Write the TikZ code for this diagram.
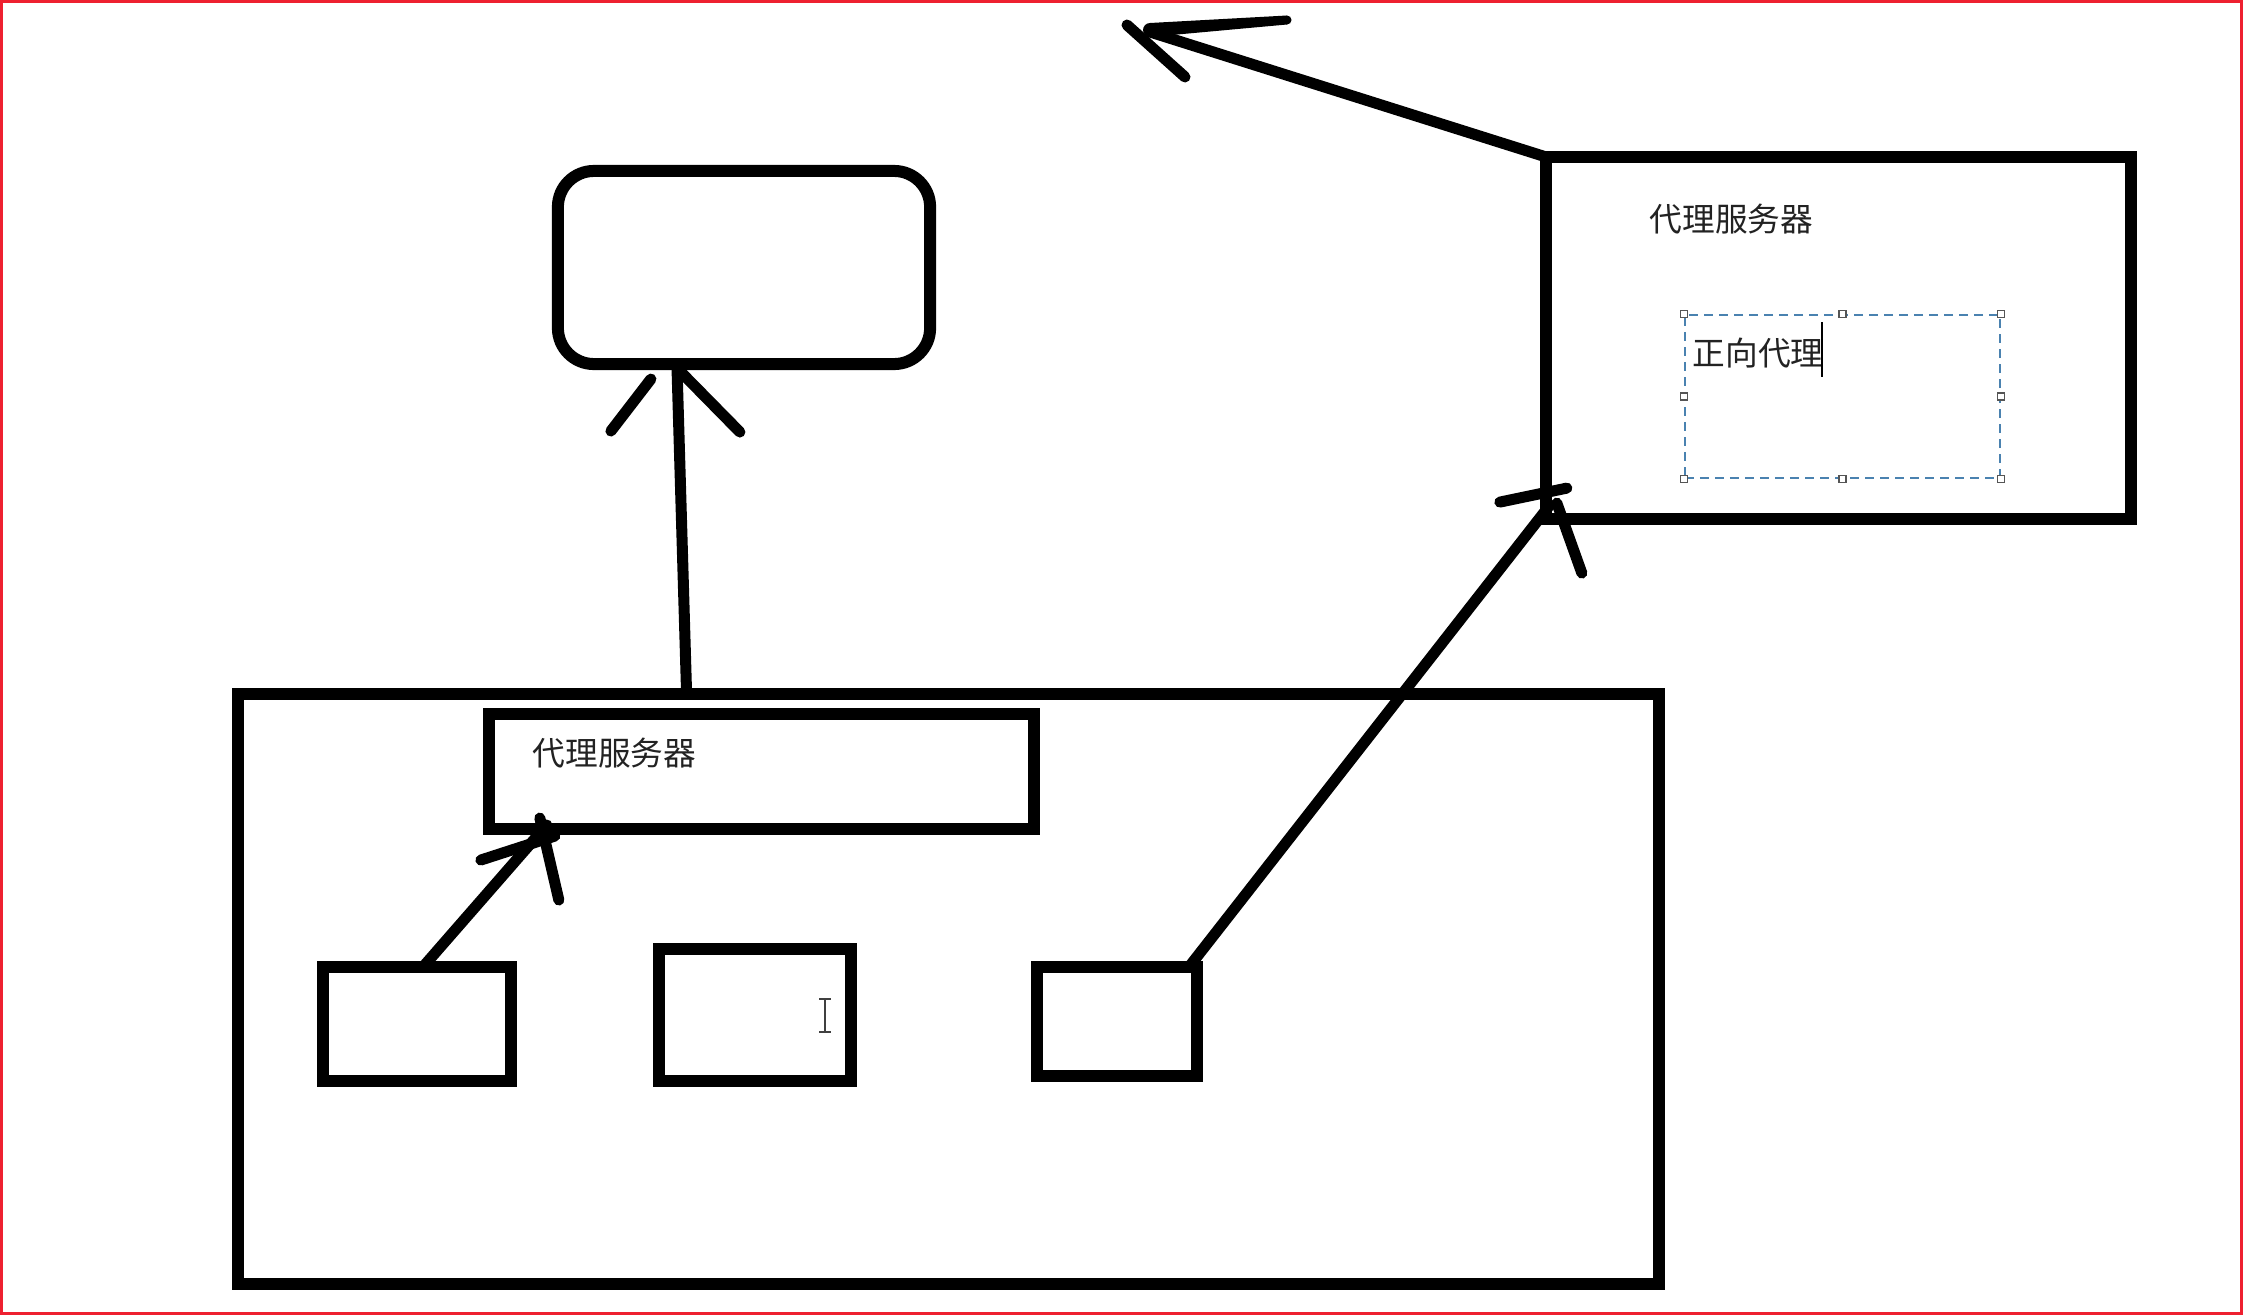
\documentclass[tikz,border=0pt]{standalone}
\usepackage{fontspec}
\newfontfamily\cjk{Noto Sans CJK SC}
\usetikzlibrary{calc}
\definecolor{redb}{HTML}{EE2030}
\definecolor{dashblue}{HTML}{4A82B0}
\definecolor{txt}{HTML}{222222}
\definecolor{handlec}{HTML}{555555}
\begin{document}
\begin{tikzpicture}[x=0.01cm,y=-0.01cm,
  box/.style={rectangle,draw=black,line width=0.12cm,inner sep=0pt,outer sep=0pt},
  hand/.style={draw=black,line width=0.11cm,line cap=round,line join=round},
  lbl/.style={font=\cjk\fontsize{9.3pt}{11pt}\selectfont,text=txt,inner sep=0pt,anchor=base west},
  handle/.style={rectangle,draw=handlec,fill=white,line width=0.012cm,minimum size=0.07cm,inner sep=0pt}]
\useasboundingbox (0,0) rectangle (2243,1315);
\draw[redb,line width=0.03cm] (1.5,1.5) rectangle (2241.5,1313.5);

% boxes
\node[box,rounded corners=0.36cm,minimum width=3.72cm,minimum height=1.93cm] (target) at (744,267.5) {};
\node[box,minimum width=14.21cm,minimum height=5.90cm] (lan) at (948.5,989) {};
\node[box,minimum width=5.45cm,minimum height=1.15cm] (proxyA) at (761.5,771.5) {};
\node[lbl] (proxyAl) at (532,765) {代理服务器};
\node[box,minimum width=1.88cm,minimum height=1.14cm] (ca) at (417,1024) {};
\node[box,minimum width=1.92cm,minimum height=1.32cm] (cb) at (755,1015) {};
\node[box,minimum width=1.60cm,minimum height=1.09cm] (cc) at (1117,1021.5) {};
\node[box,minimum width=5.85cm,minimum height=3.62cm] (proxyB) at (1838.5,338) {};
\node[lbl] (proxyBl) at (1649,231) {代理服务器};

% selected text box
\node[rectangle,draw=dashblue,line width=0.015cm,dash pattern=on 0.09cm off 0.06cm,
      minimum width=3.15cm,minimum height=1.63cm,inner sep=0pt] (sel) at (1842.5,396.5) {};
\foreach \a [count=\i] in {north west,north,north east,east,south east,south,south west,west}
  \node[handle] (h\i) at (sel.\a) {};
\node[lbl] (fwd) at (1692,365) {正向代理};
\draw[line width=0.015cm] (1822,322) -- (1822,377);

% I-beam cursor
\draw[line width=0.018cm,draw=black!75] (825,999) -- (825,1032)
  (819,999) -- (831,999) (819,1032) -- (831,1032);

% arrow 1: lan -> target
\coordinate (t1) at ($(target.south west)+(119,0)$);
\draw[hand] ($(lan.north west)+(449,0)$) -- (t1);
\draw[hand] ($(t1)+(-26,15)$) -- ($(t1)+(-66,67)$);
\draw[hand] ($(t1)+(3,7)$) -- ($(t1)+(63,68)$);

% arrow 2: ca -> proxyA
\coordinate (t2) at ($(proxyA.south west)+(58,-4)$);
\draw[hand] ($(ca.north west)+(100,0)$) -- (t2);
\draw[hand] ($(t2)+(-66,35)$) -- ($(t2)+(8,11)$);
\draw[hand] ($(t2)+(-7,-7)$) -- ($(t2)+(12,75)$);

% arrow 3: cc -> proxyB
\coordinate (t3) at ($(proxyB.south west)+(4,-14)$);
\draw[hand] ($(cc.north west)+(152,0)$) -- (t3);
\draw[hand] ($(t3)+(-50,-3)$) -- ($(t3)+(17,-17)$);
\draw[hand] ($(t3)+(7,-2)$) -- ($(t3)+(32,68)$);

% arrow 4: proxyB -> outside
\coordinate (t4) at (1150,32);
\draw[hand] (proxyB.north west) -- (t4);
\fill[black] ($(t4)+(0,-9)$) -- ($(t4)+(137,-16.5)$) -- ($(t4)+(137,-7.5)$) -- ($(t4)+(0,5)$) -- cycle;
\fill[black] ($(t4)+(0,-2)$) circle[radius=7];
\fill[black] ($(t4)+(137,-12)$) circle[radius=4.5];
\draw[hand] ($(t4)+(-23,-7)$) -- ($(t4)+(35,45)$);
\end{tikzpicture}
\end{document}
